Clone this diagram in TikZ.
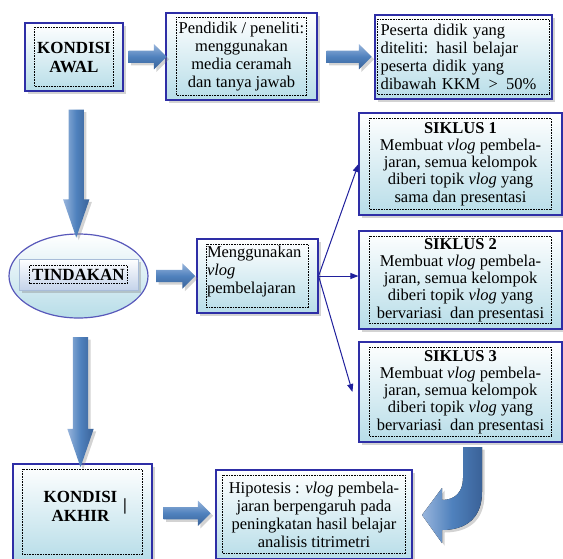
\documentclass[tikz,border=0pt]{standalone}
\usepackage{fontspec}
\setmainfont{Liberation Serif}
\usepackage{tikz}
\usetikzlibrary{shapes.geometric}
\usetikzlibrary{shapes.arrows}
\usetikzlibrary{shadows}
\usetikzlibrary{arrows.meta}

\definecolor{garisbiru}{RGB}{46,46,166}
\definecolor{isibiru}{RGB}{183,221,232}
\definecolor{gariselips}{RGB}{88,88,186}
\definecolor{tombolbiru}{RGB}{196,211,234}
\definecolor{tombolgaris}{RGB}{168,188,216}
\definecolor{panahmuda}{RGB}{152,181,220}
\definecolor{panahbiru}{RGB}{79,129,189}
\definecolor{panahgelap}{RGB}{58,98,152}
\definecolor{garistipis}{RGB}{32,32,156}

% kotak titik-titik di dalam kotak
\newcommand{\bingkaititik}[3]{\draw [titik] ([shift={(#2,#3)}]#1.north west) rectangle ([shift={(-#2,-#3)}]#1.south east);}

\begin{document}
\begin{tikzpicture}[x=1pt, y=-1pt,
		bayang/.style={drop shadow={shadow xshift=2.5pt, shadow yshift=-2.5pt, opacity=.35}},
		kotak/.style={draw=garisbiru, line width=1.1pt, top color=white, bottom color=isibiru, bayang, inner sep=0pt, align=center, font=\fontsize{16.5}{18}\selectfont},
		teks/.style={align=center, inner sep=0pt, font=\fontsize{16.5}{18}\selectfont},
		siklus/.style={kotak, minimum width=203pt, font=\fontsize{16.5}{17.2}\selectfont},
		tebal/.style={font=\fontsize{17}{19}\selectfont\bfseries},
		titik/.style={densely dotted, line width=.6pt},
		panahkanan/.style={single arrow, single arrow head extend=6.5pt, inner sep=6pt, minimum height=#1, top color=panahmuda, bottom color=panahgelap, middle color=panahbiru, bayang},
		panahbawah/.style={single arrow, shape border rotate=270, single arrow head extend=5.5pt, single arrow tip angle=38, inner sep=7.5pt, minimum height=#1, left color=panahmuda, right color=panahgelap, middle color=panahbiru, bayang},
		tipis/.style={draw=garistipis, line width=1pt, -{Triangle[length=8pt, width=6pt]}}]
				\useasboundingbox (0,0) rectangle (563,558);
				%
				% baris atas
				\node [kotak, tebal, minimum width=98pt, minimum height=68pt] (awal) at (74,57) {KONDISI\\AWAL};
				\node [kotak, minimum width=151pt, minimum height=87pt] (pendidik) at (241.5,56.5) {Pendidik / peneliti:\\menggunakan\\media ceramah\\dan tanya jawab};
				\node [kotak, align=left, text width=166pt, minimum width=177pt, minimum height=84pt] (peserta) at (463.5,57) {Peserta didik yang\\diteliti: hasil belajar\\peserta didik yang\\dibawah KKM \,>\, 50\%};
				\bingkaititik{awal}{10}{5}
				\bingkaititik{pendidik}{11}{5}
				\bingkaititik{peserta}{3}{5}
				%
				% tindakan
				\node [ellipse, draw=gariselips, line width=1.2pt, top color=white, bottom color=isibiru, minimum width=139pt, minimum height=84pt, inner sep=0pt] (tindakan) at (78.5,276) {};
				\node [draw=tombolgaris, line width=.8pt, top color=white, bottom color=tombolbiru, bayang, minimum width=119pt, minimum height=31pt, tebal] (tombol) at (78.5,274.5) {TINDAKAN};
				\bingkaititik{tombol}{11}{7}
				\node [kotak, minimum width=121pt, minimum height=74pt] (vlog) at (257.5,276) {};
				\node [teks, align=left, text width=104pt] (vlogteks) at (259,271.5) {Menggunakan\\\textit{vlog}\\pembelajaran};
				\bingkaititik{vlog}{10}{6}
				%
				% siklus
				\node [siklus, minimum height=102pt] (s1) at (460.5,164) {\textbf{SIKLUS 1}\\Membuat \textit{vlog} pembela-\\jaran, semua kelompok\\diberi topik \textit{vlog} yang\\sama dan presentasi};
				\node [siklus, minimum height=98pt] (s2) at (460.5,280) {\textbf{SIKLUS 2}\\Membuat \textit{vlog} pembela-\\jaran, semua kelompok\\diberi topik \textit{vlog} yang\\bervariasi \ dan presentasi};
				\node [siklus, minimum height=100pt] (s3) at (460.5,392) {\textbf{SIKLUS 3}\\Membuat \textit{vlog} pembela-\\jaran, semua kelompok\\diberi topik \textit{vlog} yang\\bervariasi \ dan presentasi};
				\bingkaititik{s1}{11}{6}
				\bingkaititik{s2}{11}{6}
				\bingkaititik{s3}{11}{6}
				%
				% baris bawah
				\node [kotak, minimum width=139pt, minimum height=96pt] (akhir) at (82.5,512) {};
				\node [teks, tebal] (akhirteks) at (80.5,506.5) {KONDISI\\AKHIR};
				\node [tebal, inner sep=0pt] (kursor) at (125,506) {|};
				\node [kotak, minimum width=196pt, minimum height=89pt] (hipo) at (314,514.5) {Hipotesis : \textit{vlog} pembela-\\jaran berpengaruh pada\\peningkatan hasil belajar\\analisis titrimetri};
				\bingkaititik{akhir}{10}{6}
				\bingkaititik{hipo}{7}{6}
				%
				% panah blok
				\path (awal.east) -- node [panahkanan=38pt] (p1) {} (pendidik.west);
				\path (pendidik.east) -- node [panahkanan=45pt] (p2) {} (peserta.west);
				\path (tindakan.east) -- node [panahkanan=39pt] (p3) {} (vlog.west);
				\path (akhir.east) -- node [panahkanan=47pt] (p4) {} (hipo.west);
				\path (awal.south) -- node [panahbawah=128pt] (p5) {} (tindakan.north);
				\path (tindakan.south) -- node [panahbawah=130pt] (p6) {} (akhir.north);
				%
				% panah lengkung dari siklus 3 ke hipotesis
				\fill [left color=panahmuda, right color=panahgelap, middle color=panahbiru, bayang]
				(463,447) -- (482,447) -- (482,492) .. controls (482,518) and (466,530) .. (442,530)
				-- (442,543) -- (422,515) -- (442,488) -- (442,500) .. controls (455,500) and (463,492) .. (463,478) -- cycle;
				%
				% panah tipis
				\draw [tipis] (vlog.east) -- (s1.west);
				\draw [tipis] (vlog.east) -- (vlog.east -| s2.west);
				\draw [tipis] (vlog.east) -- ([xshift=-6pt]s3.west);
			\end{tikzpicture}
\end{document}
